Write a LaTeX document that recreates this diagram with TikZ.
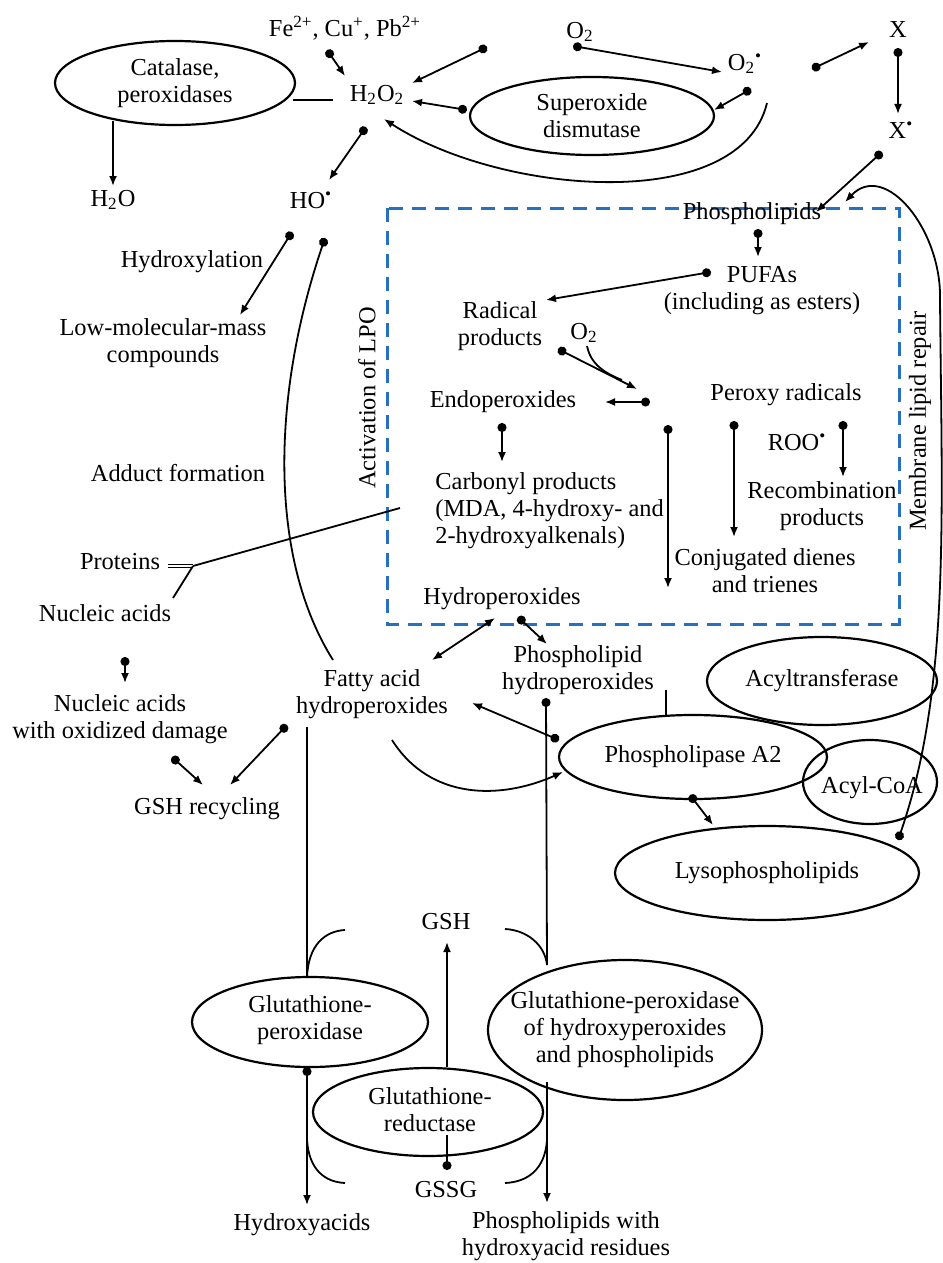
\documentclass[tikz,border=0pt]{standalone}
\usepackage{fontspec}
\setmainfont{Liberation Serif}
\usetikzlibrary{arrows.meta,shapes.geometric}
\definecolor{lpoblue}{RGB}{38,112,190}
\newcommand{\rad}{\textsuperscript{\textbullet}}
\tikzset{
  every node/.style={font=\fontsize{12.2}{13.5}\selectfont, align=center, inner sep=0pt},
  enzyme/.style={draw, ellipse, line width=1.1pt},
  link/.style={line width=0.9pt},
  react/.style={link, {Circle[length=4.5pt]}-{Latex[length=5pt,width=4pt]}},
  toward/.style={link, -{Latex[length=5pt,width=4pt]}},
  both/.style={link, {Latex[length=5pt,width=4pt]}-{Latex[length=5pt,width=4pt]}},
  todot/.style={link, -{Circle[length=4.5pt]}},
  lpobox/.style={draw=lpoblue, line width=1.5pt, dash pattern=on 7pt off 4.5pt}
}
\begin{document}
\begin{tikzpicture}[x=0.5pt, y=-0.5pt]
            \useasboundingbox (0,0) rectangle (942,1263);

            \node (fe) at (345,28) {Fe\textsuperscript{2+}, Cu\textsuperscript{+}, Pb\textsuperscript{2+}};
            \node (o2) at (580,32) {O\textsubscript{2}};
            \node (x) at (898,30) {X};
            \node (h2o2) at (377,95) {H\textsubscript{2}O\textsubscript{2}};
            \node (o2r) at (745,64) {O\textsubscript{2}\rad};
            \node (xr) at (901,130) {X\rad};
            \node[enzyme, minimum width=120pt, minimum height=42pt] (catalase) at (175,83) {};
            \node at (catalase) {Catalase,\\peroxidases};
            \node[enzyme, minimum width=122pt, minimum height=39pt] (sod) at (592,116) {};
            \node at (sod) {Superoxide\\dismutase};
            \node (h2o) at (113,200) {H\textsubscript{2}O};
            \node (ho) at (311,200) {HO\rad};

            \draw[lpobox] (387,208) rectangle (899,624);
            \node[rotate=90] (lpo) at (367,398) {Activation of LPO};
            \node[rotate=90] (repair) at (920,421) {Membrane lipid repair};

            \node (phosl) at (752,214) {Phospholipids};
            \node (pufa) at (762,291) {PUFAs\\(including as esters)};
            \node (radical) at (500,326) {Radical\\products};
            \node (o2b) at (584,333) {O\textsubscript{2}};
            \node (endo) at (503,402) {Endoperoxides};
            \node (peroxy) at (786,395) {Peroxy radicals};
            \node[align=left, anchor=west] (carbonyl) at (435,511) {Carbonyl products\\(MDA, 4-hydroxy- and\\2-hydroxyalkenals)};
            \node (roo) at (797,442) {ROO\rad};
            \node (recomb) at (822,506) {Recombination\\products};
            \node (conj) at (765,571) {Conjugated dienes\\and trienes};
            \node (hydroper) at (502,599) {Hydroperoxides};

            \node (hydroxylation) at (192,262) {Hydroxylation};
            \node (lowmol) at (163,343) {Low-molecular-mass\\compounds};
            \node (adduct) at (178,473) {Adduct formation};
            \node (proteins) at (120,562) {Proteins};
            \node (nucleic) at (105,613) {Nucleic acids};
            \node (nucdam) at (120,719) {Nucleic acids\\with oxidized damage};
            \node (gshrec) at (207,809) {GSH recycling};
            \node (fatty) at (372,694) {Fatty acid\\hydroperoxides};
            \node (phhydro) at (578,670) {Phospholipid\\hydroperoxides};

            \node[enzyme, minimum width=115pt, minimum height=44pt] (acyltr) at (822,681) {};
            \node at (acyltr) {Acyltransferase};
            \node[enzyme, minimum width=134pt, minimum height=42pt] (pla2) at (693,757) {};
            \node at (pla2) {Phospholipase A2};
            \node[enzyme, minimum width=67pt, minimum height=42pt] (acylcoa) at (870,782) {};
            \node at (872,788) {Acyl-CoA};
            \node[enzyme, minimum width=152pt, minimum height=47pt] (lyso) at (767,873) {};
            \node at (lyso) {Lysophospholipids};

            \node[enzyme, minimum width=118pt, minimum height=45pt] (gpx) at (310,1022) {};
            \node at (310,1020) {Glutathione-\\peroxidase};
            \node[enzyme, minimum width=137pt, minimum height=70pt] (gpxph) at (625,1030) {};
            \node at (625,1030) {Glutathione-peroxidase\\of hydroxyperoxides\\and phospholipids};
            \node[enzyme, minimum width=115pt, minimum height=44pt] (gr) at (428,1112) {};
            \node at (430,1110) {Glutathione-\\reductase};
            \node (gsh) at (446,922) {GSH};
            \node (gssg) at (446,1190) {GSSG};
            \node (hydroxyacids) at (302,1225) {Hydroxyacids};
            \node (plres) at (566,1236) {Phospholipids with\\hydroxyacid residues};

            \coordinate (fe-d) at (327,50);     \coordinate (h2o2-a) at (345,76);
            \coordinate (in-d) at (487,47);     \coordinate (h2o2-b) at (412,83);
            \coordinate (sod-d) at (467,110);   \coordinate (h2o2-c) at (412,101);
            \coordinate (o2r-c) at (767,103);   \coordinate (h2o2-e) at (384,119);
            \coordinate (h2o2-d) at (366,127);  \coordinate (ho-a) at (329,180);
            \coordinate (cat-e) at (293,100);   \coordinate (h2o2-w) at (333,100);
            \coordinate (cat-s) at (113,121);   \coordinate (h2o-a) at (113,186);
            \coordinate (o2-d) at (573,46);     \coordinate (o2r-a) at (722,72);
            \coordinate (o2r-d) at (751,89);    \coordinate (sod-a) at (714,110);
            \coordinate (xq-d) at (812,69);     \coordinate (x-a) at (869,42);
            \coordinate (x-d) at (898,48);      \coordinate (xr-a) at (898,114);
            \coordinate (xr-d) at (882,152);    \coordinate (phosl-a) at (816,212);
            \coordinate (lyso-d) at (898,840);  \coordinate (repair-m) at (940,300);
            \coordinate (phosl-b) at (845,202);

            \coordinate (phosl-d) at (758,229); \coordinate (pufa-a) at (758,257);
            \coordinate (pufa-d) at (711,272);  \coordinate (radical-a) at (546,300);
            \coordinate (radical-d) at (558,349); \coordinate (ox-a) at (637,389);
            \coordinate (o2b-s) at (587,346);   \coordinate (ox-j) at (622,380);
            \coordinate (ox-d) at (650,402);    \coordinate (endo-a) at (605,402);
            \coordinate (endo-d) at (502,423);  \coordinate (carbonyl-a) at (502,462);
            \coordinate (long-d) at (668,425);  \coordinate (hydroper-a) at (668,588);
            \coordinate (peroxy-d) at (734,421); \coordinate (conj-a) at (734,537);
            \coordinate (roo-d) at (843,421);   \coordinate (recomb-a) at (843,477);

            \coordinate (ho-d) at (292,232);    \coordinate (lowmol-a) at (240,315);
            \coordinate (ho-e) at (325,238);    \coordinate (fatty-n) at (333,660);
            \coordinate (prot-e) at (168,566);  \coordinate (prot-j) at (193,566);
            \coordinate (carbonyl-w) at (400,508); \coordinate (nucleic-n) at (173,598);
            \coordinate (nucleic-d) at (125,657); \coordinate (nucdam-a) at (125,683);
            \coordinate (nucdam-d) at (172,757); \coordinate (gshrec-a) at (203,785);
            \coordinate (fatty-d) at (287,725); \coordinate (gshrec-b) at (230,785);

            \coordinate (hydroper-s) at (495,618); \coordinate (fatty-a) at (432,660);
            \coordinate (hydroper-d) at (518,617); \coordinate (phhydro-a) at (547,644);
            \coordinate (pla2-d) at (559,740);  \coordinate (fatty-b) at (472,703);
            \coordinate (fatty-c) at (392,740); \coordinate (pla2-a) at (563,772);
            \coordinate (phhydro-e) at (666,690); \coordinate (pla2-n) at (666,715);
            \coordinate (pla2-s) at (690,795);  \coordinate (lyso-a) at (713,825);

            \coordinate (phhydro-d) at (546,698); \coordinate (gpxph-n) at (547,965);
            \coordinate (gpxph-s) at (547,1082); \coordinate (plres-a) at (547,1203);
            \coordinate (fatty-s) at (307,727); \coordinate (gpx-n) at (307,978);
            \coordinate (gpx-d) at (307,1067);  \coordinate (hydroxyacids-a) at (307,1205);
            \coordinate (gpx-ul) at (345,930);  \coordinate (gpx-ur) at (505,929);
            \coordinate (gpx-ll) at (307,1140); \coordinate (gpx-lr) at (345,1183);
            \coordinate (gpxph-ll) at (505,1183); \coordinate (gpxph-lj) at (547,1140);
            \coordinate (gr-n) at (447,1067);   \coordinate (gsh-a) at (447,942);
            \coordinate (gr-s) at (447,1135);   \coordinate (gssg-d) at (447,1170);

            \draw[react] (fe-d) -- (h2o2-a);
            \draw[react] (in-d) -- (h2o2-b);
            \draw[react] (sod-d) -- (h2o2-c);
            \draw[toward] (o2r-c) .. controls (740,215) and (500,195) .. (h2o2-e);
            \draw[react] (h2o2-d) -- (ho-a);
            \draw[link] (cat-e) -- (h2o2-w);
            \draw[toward] (cat-s) -- (h2o-a);
            \draw[react] (o2-d) -- (o2r-a);
            \draw[react] (o2r-d) -- (sod-a);
            \draw[react] (xq-d) -- (x-a);
            \draw[react] (x-d) -- (xr-a);
            \draw[react] (xr-d) -- (phosl-a);
            \draw[react] (lyso-d) .. controls (950,690) and (942,520) .. (repair-m)
                .. controls (942,230) and (885,160) .. (phosl-b);

            \draw[react] (phosl-d) -- (pufa-a);
            \draw[react] (pufa-d) -- (radical-a);
            \draw[react] (radical-d) -- (ox-a);
            \draw[link] (o2b-s) .. controls (591,365) and (605,373) .. (ox-j);
            \draw[react] (ox-d) -- (endo-a);
            \draw[react] (endo-d) -- (carbonyl-a);
            \draw[react] (long-d) -- (hydroper-a);
            \draw[react] (peroxy-d) -- (conj-a);
            \draw[react] (roo-d) -- (recomb-a);

            \draw[react] (ho-d) -- (lowmol-a);
            \draw[link, {Circle[length=4.5pt]}-] (ho-e) .. controls (270,400) and (270,560) .. (fatty-n);
            \draw[link, double, double distance=0.9pt, line width=0.5pt] (prot-e) -- (prot-j);
            \draw[link] (prot-j) -- (carbonyl-w);
            \draw[link] (prot-j) -- (nucleic-n);
            \draw[react] (nucleic-d) -- (nucdam-a);
            \draw[react] (nucdam-d) -- (gshrec-a);
            \draw[react] (fatty-d) -- (gshrec-b);

            \draw[both] (hydroper-s) -- (fatty-a);
            \draw[react] (hydroper-d) -- (phhydro-a);
            \draw[react] (pla2-d) -- (fatty-b);
            \draw[toward] (fatty-c) .. controls (430,800) and (500,800) .. (pla2-a);
            \draw[link] (phhydro-e) -- (pla2-n);
            \draw[react] (pla2-s) -- (lyso-a);

            \draw[link, {Circle[length=4.5pt]}-] (phhydro-d) -- (gpxph-n);
            \draw[toward] (gpxph-s) -- (plres-a);
            \draw[link] (fatty-s) -- (gpx-n);
            \draw[react] (gpx-d) -- (hydroxyacids-a);
            \draw[link] (gpx-ul) .. controls (325,931) and (308,945) .. (gpx-n);
            \draw[link] (gpx-ur) .. controls (527,930) and (545,945) .. (gpxph-n);
            \draw[link] (gpx-ll) .. controls (309,1170) and (325,1182) .. (gpx-lr);
            \draw[link] (gpxph-ll) .. controls (527,1182) and (545,1170) .. (gpxph-lj);
            \draw[toward] (gr-n) -- (gsh-a);
            \draw[todot] (gr-s) -- (gssg-d);
        \end{tikzpicture}
\end{document}
